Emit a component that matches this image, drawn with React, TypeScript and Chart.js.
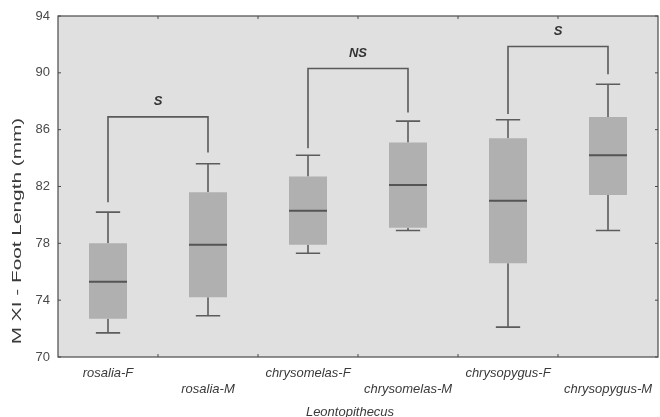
import React, { useEffect, useRef } from "react";
import { Chart, registerables } from "chart.js";

Chart.register(...registerables);

const categories = ["rosalia-F", "rosalia-M", "chrysomelas-F", "chrysomelas-M", "chrysopygus-F", "chrysopygus-M"];
const whiskerLow = [71.7, 72.9, 77.3, 78.9, 72.1, 78.9];
const q1 = [72.7, 74.2, 77.9, 79.1, 76.6, 81.4];
const median = [75.3, 77.9, 80.3, 82.1, 81.0, 84.2];
const q3 = [78.0, 81.6, 82.7, 85.1, 85.4, 86.9];
const whiskerHigh = [80.2, 83.6, 84.2, 86.6, 86.7, 89.2];

const bracketLeft = [0, 2, 4];
const bracketRight = [1, 3, 5];
const bracketLeftFoot = [80.9, 84.7, 87.1];
const bracketTop = [86.9, 90.3, 91.85];
const bracketRightFoot = [84.4, 87.2, 89.9];
const bracketLabels = ["S", "NS", "S"];

const yTicks = [70, 74, 78, 82, 86, 90, 94];
const xTitle = "Leontopithecus";
const yTitle = "M XI - Foot Length (mm)";

const FONT = "'Liberation Sans', Arial, sans-serif";

const extras = {
  id: "boxExtras",
  beforeDraw(chart: any) {
    const { ctx, chartArea: a } = chart;
    ctx.save();
    ctx.fillStyle = "#e0e0e0";
    ctx.fillRect(a.left, a.top, a.right - a.left, a.bottom - a.top);
    ctx.restore();
  },
  beforeDatasetsDraw(chart: any) {
    const { ctx } = chart;
    const x = chart.scales.x;
    const y = chart.scales.y;
    const meta = chart.getDatasetMeta(0);
    ctx.save();
    ctx.strokeStyle = "#5c5c5c";
    ctx.lineWidth = 1.6;
    categories.forEach((_, i) => {
      const cx = x.getPixelForValue(i);
      const bw = meta.data[i].width;
      const cap = bw * 0.32;
      const yl = y.getPixelForValue(whiskerLow[i]);
      const yh = y.getPixelForValue(whiskerHigh[i]);
      const y1 = y.getPixelForValue(q1[i]);
      const y3 = y.getPixelForValue(q3[i]);
      ctx.beginPath();
      ctx.moveTo(cx, yh);
      ctx.lineTo(cx, y3);
      ctx.moveTo(cx, y1);
      ctx.lineTo(cx, yl);
      ctx.moveTo(cx - cap, yh);
      ctx.lineTo(cx + cap, yh);
      ctx.moveTo(cx - cap, yl);
      ctx.lineTo(cx + cap, yl);
      ctx.stroke();
    });
    ctx.restore();
  },
  afterDatasetsDraw(chart: any) {
    const { ctx, chartArea: a } = chart;
    const x = chart.scales.x;
    const y = chart.scales.y;
    const meta = chart.getDatasetMeta(0);
    ctx.save();
    // medians
    ctx.strokeStyle = "#555555";
    ctx.lineWidth = 2;
    categories.forEach((_, i) => {
      const cx = x.getPixelForValue(i);
      const bw = meta.data[i].width;
      const ym = y.getPixelForValue(median[i]);
      ctx.beginPath();
      ctx.moveTo(cx - bw / 2, ym);
      ctx.lineTo(cx + bw / 2, ym);
      ctx.stroke();
    });
    // brackets
    ctx.strokeStyle = "#5a5a5a";
    ctx.lineWidth = 1.6;
    ctx.fillStyle = "#333333";
    ctx.font = `italic bold 13px ${FONT}`;
    ctx.textAlign = "center";
    ctx.textBaseline = "middle";
    bracketLabels.forEach((lab, k) => {
      const xl = x.getPixelForValue(bracketLeft[k]);
      const xr = x.getPixelForValue(bracketRight[k]);
      const yt = y.getPixelForValue(bracketTop[k]);
      ctx.beginPath();
      ctx.moveTo(xl, y.getPixelForValue(bracketLeftFoot[k]));
      ctx.lineTo(xl, yt);
      ctx.lineTo(xr, yt);
      ctx.lineTo(xr, y.getPixelForValue(bracketRightFoot[k]));
      ctx.stroke();
      ctx.fillText(lab, (xl + xr) / 2, yt - 15);
    });
    // frame
    ctx.strokeStyle = "#4a4a4a";
    ctx.lineWidth = 1.2;
    ctx.strokeRect(a.left, a.top, a.right - a.left, a.bottom - a.top);
    // inward ticks
    ctx.lineWidth = 1;
    ctx.beginPath();
    for (let i = 0; i < categories.length - 1; i++) {
      const bx = (x.getPixelForValue(i) + x.getPixelForValue(i + 1)) / 2;
      ctx.moveTo(bx, a.bottom);
      ctx.lineTo(bx, a.bottom - 3);
      ctx.moveTo(bx, a.top);
      ctx.lineTo(bx, a.top + 3);
    }
    yTicks.forEach((v) => {
      const py = y.getPixelForValue(v);
      ctx.moveTo(a.left, py);
      ctx.lineTo(a.left + 3, py);
      ctx.moveTo(a.right, py);
      ctx.lineTo(a.right - 3, py);
    });
    ctx.stroke();
    // titles
    ctx.fillStyle = "#3a3a3a";
    ctx.font = `italic 13px ${FONT}`;
    ctx.textAlign = "center";
    ctx.textBaseline = "middle";
    ctx.fillText(xTitle, (a.left + a.right) / 2 - 8, 412);
    ctx.save();
    ctx.translate(17, 231);
    ctx.rotate(-Math.PI / 2);
    ctx.scale(1.6, 1);
    ctx.font = `13px ${FONT}`;
    ctx.fillText(yTitle, 0, 0);
    ctx.restore();
    ctx.restore();
  },
};

export default function App() {
  const ref = useRef<HTMLCanvasElement | null>(null);
  useEffect(() => {
    if (!ref.current) return;
    const chart = new Chart(ref.current, {
      type: "bar",
      data: {
        labels: categories,
        datasets: [
          {
            data: categories.map((_, i) => [q1[i], q3[i]]) as any,
            backgroundColor: "#b0b0b0",
            borderWidth: 0,
            barPercentage: 0.38,
            categoryPercentage: 1,
          },
        ],
      },
      options: {
        animation: false,
        responsive: true,
        maintainAspectRatio: false,
        layout: { padding: { top: 16, right: 2, left: 0, bottom: 0 } },
        plugins: { legend: { display: false }, tooltip: { enabled: false } },
        scales: {
          x: {
            type: "category",
            offset: true,
            grid: { display: false },
            border: { display: false },
            afterFit: (s: any) => {
              s.height = 60;
            },
            ticks: {
              color: "#3a3a3a",
              font: { family: FONT, size: 13, style: "italic", lineHeight: 1.23 },
              padding: 0,
              maxRotation: 0,
              autoSkip: false,
              callback: (_v: any, i: number) => (i % 2 === 0 ? [categories[i]] : ["", categories[i]]),
            },
          },
          y: {
            min: 70,
            max: 94,
            grid: { display: false },
            border: { display: false },
            afterFit: (s: any) => {
              s.width = 58;
            },
            afterBuildTicks: (s: any) => {
              s.ticks = yTicks.map((v) => ({ value: v }));
            },
            ticks: {
              color: "#4a4a4a",
              font: { family: FONT, size: 13 },
              padding: 0,
            },
          },
        },
      },
      plugins: [extras],
    });
    return () => chart.destroy();
  }, []);
  return (
    <div style={{ position: "fixed", left: 0, top: 0, width: 660, height: 417, background: "#fff" }}>
      <canvas ref={ref} />
    </div>
  );
}
